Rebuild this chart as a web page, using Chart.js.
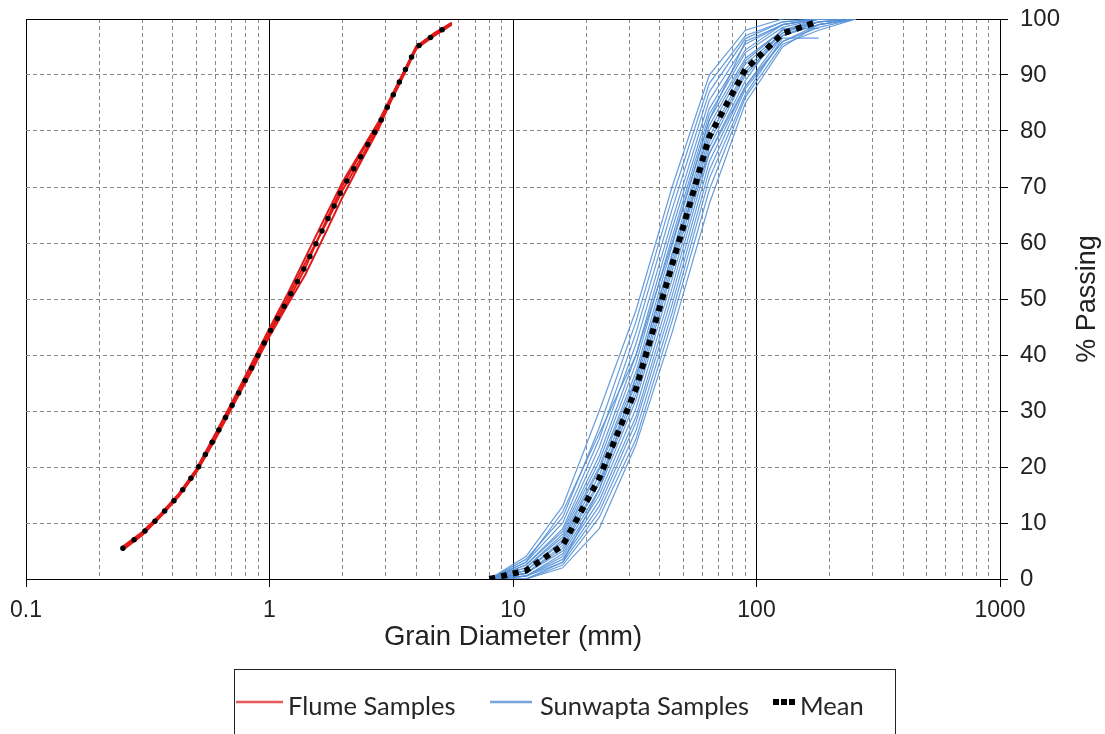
<!DOCTYPE html>
<html>
<head>
<meta charset="utf-8">
<title>Grain size distribution</title>
<script src="https://cdn.jsdelivr.net/npm/chart.js@4/dist/chart.umd.min.js"></script>
<style>
    html, body { margin: 0; padding: 0; background: #fff; }
    #wrap { position: relative; width: 1105px; height: 734px; }
</style>
</head>
<body>
<div id="wrap"><canvas id="gsdChart"></canvas></div>
<script>
// 篩孔尺寸 (mm) 與累積通過百分比
const flumeSizes = [0.25, 0.3, 0.355, 0.425, 0.5, 0.6, 0.71, 0.85, 1.0, 1.18, 1.4, 1.7, 2.0, 2.36, 2.8, 3.35, 4.0, 4.75, 5.6];
const flumeMean = [5.5, 8.1, 11.2, 15.0, 19.3, 25.5, 31.4, 37.9, 44.0, 49.6, 55.8, 63.5, 69.8, 75.3, 80.9, 88.0, 94.9, 97.2, 99.2];
const flumeSamples = [
    [5.2, 7.8, 11.0, 14.8, 19.0, 25.0, 31.0, 37.3, 43.3, 48.8, 54.3, 61.8, 68.3, 74.3, 80.3, 88.0, 95.0, 97.5, 99.3],
    [5.8, 8.4, 11.5, 15.3, 19.6, 26.0, 32.0, 38.7, 44.8, 50.7, 57.3, 64.8, 71.0, 76.2, 81.6, 88.3, 94.8, 97.0, 99.0],
    [5.4, 8.0, 11.1, 14.9, 19.2, 25.3, 31.2, 37.6, 43.8, 49.3, 55.5, 63.8, 70.3, 75.8, 81.0, 87.6, 94.6, 97.1, 99.1],
    [5.6, 8.2, 11.3, 15.1, 19.4, 25.7, 31.6, 38.2, 44.2, 50.0, 56.4, 63.3, 69.5, 74.9, 80.6, 88.2, 95.1, 97.3, 99.3]
];

const sunwaptaSizes = [8, 11.3, 16, 22.6, 32, 45, 64, 90, 128, 180, 256];
const sunwaptaMean = [0, 1.5, 6.0, 18.0, 34.0, 56.0, 79.0, 91.0, 97.4, 99.6, null];
const sunwaptaSamples = [
    [0, 4.0, 13.0, 30.0, 48.0, 70.0, 90.0, 98.0, 100, 100, 100],
    [0, 3.5, 11.0, 27.0, 46.0, 68.0, 88.5, 97.0, 99.5, 100, 100],
    [0, 3.0, 10.0, 25.0, 44.0, 66.0, 87.0, 96.5, 99.5, 100, 100],
    [0, 2.5, 9.0, 23.5, 42.0, 64.0, 85.5, 95.5, 99.0, 100, 100],
    [0, 2.5, 8.5, 22.0, 40.0, 62.5, 84.0, 94.5, 99.0, 100, null],
    [0, 2.0, 8.0, 21.0, 38.5, 61.0, 83.0, 94.0, 98.5, 100, 100],
    [0, 2.0, 7.5, 20.0, 37.0, 59.5, 82.0, 93.0, 98.0, 99.5, 100],
    [0, 1.5, 7.0, 19.5, 36.0, 58.0, 81.0, 92.5, 98.0, 100, null],
    [0, 1.5, 6.5, 18.5, 35.0, 57.0, 80.0, 92.0, 97.5, 99.5, 100],
    [0, 1.0, 6.0, 17.5, 34.0, 56.0, 79.0, 91.0, 97.5, 100, 100],
    [0, 1.0, 5.5, 17.0, 33.0, 55.0, 78.0, 90.5, 97.0, 99.0, 100],
    [0, 1.0, 5.0, 16.0, 32.0, 53.5, 77.0, 90.0, 97.0, 99.5, null],
    [0, 0.5, 4.5, 15.0, 30.5, 52.0, 76.0, 89.0, 98.3, 98.3, null],
    [0, 0.5, 4.0, 14.0, 29.0, 50.5, 74.5, 88.0, 96.0, 99.0, 100],
    [0, 0.5, 3.5, 13.0, 28.0, 49.0, 73.0, 87.5, 96.0, 98.5, 100],
    [0, 0, 3.0, 12.0, 26.5, 47.5, 71.5, 86.5, 96.6, 96.6, null],
    [0, 0, 2.5, 11.0, 25.0, 46.0, 69.5, 86.0, 95.5, 98.0, 100],
    [0, 0, 2.0, 9.0, 24.0, 44.0, 67.0, 85.0, 95.0, 99.0, 100],
    [0, 3.0, 12.0, 26.0, 40.0, 60.0, 82.0, 96.0, 99.0, 100, 100],
    [0, 0.5, 3.0, 16.0, 36.0, 58.0, 76.0, 88.0, 97.0, 99.5, 100]
];

// 座標軸刻度
const xDecades = [0.1, 1, 10, 100, 1000];
const xMinorSteps = [1, 2, 3, 4, 5, 6, 7, 8, 9];
const yTicks = [0, 10, 20, 30, 40, 50, 60, 70, 80, 90, 100];
const legendLabels = ['Flume Samples', 'Sunwapta Samples', 'Mean'];

const RED = 'rgb(225, 25, 25)';
const BLUE = 'rgba(85, 145, 215, 0.9)';
const GRID = '#8a8a8a';
const AXIS_FONT = 'Arial, "Liberation Sans", sans-serif';

function toPoints(sizes, values) {
    return sizes.map((s, i) => ({ x: s, y: values[i] })).filter(p => p.y !== null);
}

function isDecade(v) {
    if (v === undefined) return false;
    const l = Math.log10(v);
    return Math.abs(l - Math.round(l)) < 1e-9;
}

// 建立資料集 (順序越小越在上層)
const datasets = [];
datasets.push({
    label: legendLabels[2],
    data: toPoints(sunwaptaSizes, sunwaptaMean),
    borderColor: '#000',
    borderWidth: 6,
    borderDash: [6, 6],
    borderCapStyle: 'butt',
    order: 0
});
datasets.push({
    label: legendLabels[2],
    data: toPoints(flumeSizes, flumeMean),
    borderColor: '#000',
    borderWidth: 5.5,
    borderDash: [0, 14],
    borderCapStyle: 'round',
    order: 1
});
flumeSamples.forEach(vals => {
    datasets.push({
        label: legendLabels[0],
        data: toPoints(flumeSizes, vals),
        borderColor: RED,
        borderWidth: 2,
        order: 2
    });
});
sunwaptaSamples.forEach(vals => {
    datasets.push({
        label: legendLabels[1],
        data: toPoints(sunwaptaSizes, vals),
        borderColor: BLUE,
        borderWidth: 1.2,
        order: 3
    });
});

// 右側標題與圖例方框
const frameExtras = {
    id: 'frameExtras',
    afterDraw(chart) {
        const ctx = chart.ctx;
        const area = chart.chartArea;
        const yScale = chart.scales.y;

        ctx.save();
        ctx.fillStyle = '#222';
        ctx.font = '27px ' + AXIS_FONT;
        ctx.textAlign = 'center';
        ctx.textBaseline = 'middle';
        ctx.translate(yScale.right - 17, (area.top + area.bottom) / 2);
        ctx.rotate(-Math.PI / 2);
        ctx.fillText('% Passing', 0, 0);
        ctx.restore();

        // 圖例
        const boxLeft = 234.5, boxTop = 669.5, boxRight = 895.5;
        ctx.save();
        ctx.strokeStyle = '#222';
        ctx.lineWidth = 1;
        ctx.strokeRect(boxLeft, boxTop, boxRight - boxLeft, chart.height - boxTop + 10);

        const symY = 702;
        const items = [
            { color: 'rgb(230, 90, 90)', x0: 236, x1: 283, dash: [], width: 2.5, textX: 288 },
            { color: 'rgb(120, 165, 220)', x0: 490, x1: 532, dash: [], width: 2.5, textX: 540 },
            { color: '#000', x0: 773, x1: 795, dash: [6, 2], width: 6, textX: 800 }
        ];
        items.forEach((it, i) => {
            ctx.beginPath();
            ctx.setLineDash(it.dash);
            ctx.lineCap = 'butt';
            ctx.strokeStyle = it.color;
            ctx.lineWidth = it.width;
            ctx.moveTo(it.x0, symY);
            ctx.lineTo(it.x1, symY);
            ctx.stroke();
            ctx.setLineDash([]);
            ctx.fillStyle = '#262626';
            ctx.font = '25.5px Lato, "Open Sans", sans-serif';
            ctx.textAlign = 'left';
            ctx.textBaseline = 'alphabetic';
            ctx.fillText(legendLabels[i], it.textX, 715);
        });
        ctx.restore();
    }
};

new Chart(document.getElementById('gsdChart'), {
    type: 'line',
    data: { datasets: datasets },
    options: {
        responsive: true,
        maintainAspectRatio: false,
        animation: false,
        events: [],
        elements: {
            point: { radius: 0 },
            line: { tension: 0 }
        },
        layout: {
            padding: { left: 26, top: 19, right: 0, bottom: 80 }
        },
        plugins: {
            legend: { display: false },
            tooltip: { enabled: false }
        },
        scales: {
            x: {
                type: 'logarithmic',
                position: 'bottom',
                min: xDecades[0],
                max: xDecades[xDecades.length - 1],
                afterBuildTicks(scale) {
                    const ticks = [];
                    for (let i = 0; i < xDecades.length - 1; i++) {
                        xMinorSteps.forEach(m => ticks.push({ value: xDecades[i] * m }));
                    }
                    ticks.push({ value: xDecades[xDecades.length - 1] });
                    scale.ticks = ticks;
                },
                afterFit(scale) { scale.height = 75; },
                ticks: {
                    autoSkip: false,
                    maxRotation: 0,
                    padding: 10,
                    color: '#222',
                    font: { family: AXIS_FONT, size: 23 },
                    callback: (value) => isDecade(value) ? String(+value.toPrecision(6)) : ''
                },
                grid: {
                    color: (c) => isDecade(c.tick && c.tick.value) ? '#000' : GRID,
                    lineWidth: 1,
                    tickLength: 8,
                    tickColor: (c) => isDecade(c.tick && c.tick.value) ? '#000' : 'rgba(0,0,0,0)',
                    tickBorderDash: []
                },
                border: {
                    display: true,
                    color: '#000',
                    width: 1,
                    dash: (c) => (c.tick && !isDecade(c.tick.value)) ? [4, 3] : []
                },
                title: {
                    display: true,
                    text: 'Grain Diameter (mm)',
                    color: '#222',
                    padding: { top: 0, bottom: 0 },
                    font: { family: AXIS_FONT, size: 27.5 }
                }
            },
            y: {
                type: 'linear',
                position: 'right',
                min: yTicks[0],
                max: yTicks[yTicks.length - 1],
                afterBuildTicks(scale) {
                    scale.ticks = yTicks.map(v => ({ value: v }));
                },
                afterFit(scale) {
                    scale.width = 105;
                    scale.paddingTop = 0;
                    scale.paddingBottom = 0;
                },
                ticks: {
                    padding: 12,
                    color: '#222',
                    font: { family: AXIS_FONT, size: 24 }
                },
                grid: {
                    color: (c) => (c.tick && (c.tick.value === 100 || c.tick.value === 0)) ? '#000' : GRID,
                    lineWidth: 1,
                    tickLength: 8,
                    tickColor: '#000',
                    tickBorderDash: []
                },
                border: {
                    display: true,
                    color: '#000',
                    width: 1,
                    dash: (c) => (c.tick && c.tick.value !== 100 && c.tick.value !== 0) ? [4, 3] : []
                }
            }
        }
    },
    plugins: [frameExtras]
});
</script>
</body>
</html>
